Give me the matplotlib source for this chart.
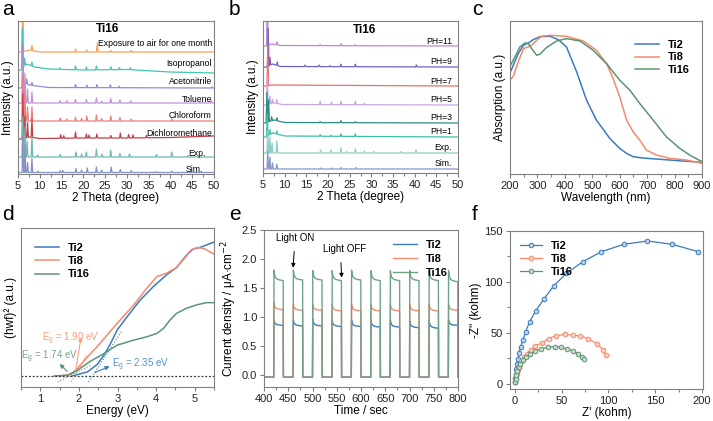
import numpy as np
import matplotlib.pyplot as plt

plt.rcParams['font.family'] = ['Liberation Sans', 'DejaVu Sans']

W, H = 713, 421

# ---------------- data ----------------
# (a) XRD, Ti16 after solvents; offsets in plot units, peaks as (2theta, height)
a_names = ['Exposure to air for one month', 'Isopropanol', 'Acetonitrile', 'Toluene',
           'Chloroform', 'Dichloromethane', 'Exp.', 'Sim.']
a_colors = ['#f5a25d', '#42c6ae', '#9a86d8', '#c391d6', '#ee7f7b', '#c2404a', '#72b8b0', '#8592c6']
a_base_x = [[5, 5.8, 7.6, 10, 50], [5, 5.7, 6.9, 8.8, 12, 20, 30, 40, 50], [5, 5.7, 6.5, 7.6, 12, 50],
            [5, 5.7, 50], [5, 5.7, 50], [5, 5.7, 7.7, 10, 20, 30, 40, 50], [5, 50], [5, 50]]
a_base_y = [[122, 122, 124, 122, 122], [104, 104, 110, 107, 105, 104, 104.5, 102, 101], [86, 86, 91, 89, 86.5, 86],
            [71, 71, 71], [53, 53, 53], [35, 35, 37, 35.5, 36, 36, 36.5, 38], [17, 17], [1.5, 1.5]]
a_peaks = [
    [(6.1, 60), (8.2, 5), (18.2, 3), (20.8, 2), (23.2, 9), (26.3, 1.5), (31.0, 1.5)],
    [(6.0, 40), (6.5, 8), (8.2, 4), (14.6, 1.5), (18.2, 4), (20.7, 3), (23.0, 4), (26.3, 3), (28.3, 2), (30.8, 2)],
    [(6.1, 40), (7.0, 5), (8.2, 3), (18.2, 3), (20.8, 2.5), (23.1, 3), (26.2, 3), (28.2, 1.5), (49.5, 1)],
    [(6.1, 45), (6.6, 30), (7.2, 14), (8.2, 11), (14.7, 2.5), (16.2, 2.5), (18.2, 3.5), (20.7, 3.5),
     (23.0, 5), (24.2, 2), (26.3, 4.5), (28.4, 3), (30.9, 2), (49.4, 2.5)],
    [(6.1, 45), (6.6, 28), (7.2, 14), (8.2, 14), (14.7, 3), (16.2, 2), (18.2, 4), (19.6, 2.5), (20.8, 5),
     (23.0, 6), (24.2, 2.5), (26.3, 5), (28.4, 3.5), (31.0, 2), (40.3, 2)],
    [(6.1, 45), (6.6, 22), (7.2, 15), (8.2, 18), (14.8, 3.5), (15.5, 2.5), (18.2, 6), (20.7, 4), (21.3, 3),
     (23.1, 4), (26.3, 2.5), (28.5, 5), (30.4, 3.5), (31.4, 3), (34.5, 2.5)],
    [(6.1, 40), (6.6, 30), (7.1, 16), (8.2, 20), (9.5, 2), (14.7, 2.5), (18.3, 5), (19.6, 3), (20.7, 5),
     (23.0, 8), (24.3, 3), (26.3, 7), (28.4, 3.5), (30.6, 3), (36.8, 2.5), (40.3, 5), (44.0, 1.5)],
    [(6.1, 38), (6.6, 28), (7.2, 10), (8.2, 14), (9.6, 1.5), (14.7, 2), (15.3, 2), (18.3, 4), (19.6, 2.5),
     (20.9, 4.5), (23.0, 5.5), (24.2, 2.5), (26.4, 5.5), (28.5, 3), (31.0, 2), (36.8, 1), (40.3, 1.5)],
]
a_label_x = [49.5, 49.5, 49.5, 49.5, 49.5, 49.5, 48, 47.5]
a_label_y = [131, 110, 92, 75, 58, 40, 21, 5]

# (b) XRD, Ti16 after pH soaking
b_names = ['PH=11', 'PH=9', 'PH=7', 'PH=5', 'PH=3', 'PH=1', 'Exp.', 'Sim.']
b_colors = ['#c486d0', '#6d64c9', '#f06c66', '#c9a7e0', '#2e8b86', '#3cc0a6', '#8fcfc6', '#8a98c8']
b_base_x = [[5, 5.6, 6.9, 9, 50], [5, 5.7, 7.2, 9, 50], [5, 5.7, 7, 50], [5, 5.6, 7.6, 9.5, 50],
            [5, 5.5, 7.5, 10, 50], [5, 5.6, 7.3, 10, 50], [5, 50], [5, 50]]
b_base_y = [[127, 127, 129, 127.5, 127], [106, 106, 109, 106.5, 106], [87, 87, 88, 87], [68, 68, 70, 68.5, 68],
            [50, 50, 53, 50.5, 50], [36, 36, 40, 37, 36], [20, 20], [4, 4]]
b_peaks = [
    [(6.0, 60), (8.2, 3), (18.2, 1), (23.0, 2), (26.3, 1)],
    [(6.2, 38), (6.6, 8), (8.3, 3.5), (14.7, 1.5), (18.0, 1.5), (20.5, 1), (23.0, 2.5), (26.3, 2.5), (40.4, 2)],
    [(6.1, 40)],
    [(6.0, 30), (6.6, 8), (7.2, 4), (8.2, 4), (18.2, 3.5), (20.8, 2.5), (23.0, 3.5), (26.3, 3.5), (28.4, 1.5)],
    [(5.9, 30), (6.3, 22), (7.0, 4), (8.2, 3), (18.2, 1), (23.0, 2), (26.3, 1)],
    [(6.0, 22), (6.6, 5), (8.2, 3), (18.2, 1.5), (20.7, 1), (23.0, 2.5), (26.3, 2.5)],
    [(6.1, 22), (6.6, 16), (7.1, 10), (8.2, 12), (18.3, 3), (20.7, 3), (23.0, 5), (24.3, 1.5), (26.3, 4),
     (28.4, 2), (30.6, 1.5), (36.8, 1.5), (40.3, 3)],
    [(6.1, 18), (6.6, 12), (7.2, 6), (8.2, 5), (18.3, 1), (20.9, 1), (23.0, 1.5), (26.4, 1.5)],
]
b_label_y = [132, 111, 92, 73, 56, 41, 25, 9]

# (c) UV-vis absorption
c_ti2_wl = [200, 212, 230, 249, 267, 285, 309, 346, 376, 406, 443, 479, 515, 564, 600, 625, 649, 685, 782, 900]
c_ti2_abs = [304, 327, 362, 387, 394, 404, 413, 414, 404, 382, 307, 222, 162, 107, 77, 62, 52, 48, 42, 35]
c_ti8_wl = [200, 212, 230, 249, 267, 279, 297, 315, 346, 406, 467, 515, 552, 576, 600, 625, 649, 673, 697,
            734, 782, 843, 900]
c_ti8_abs = [282, 294, 337, 377, 382, 387, 402, 414, 417, 414, 400, 372, 332, 287, 232, 162, 127, 102, 72,
             57, 47, 42, 32]
c_ti16_wl = [200, 218, 236, 255, 267, 279, 297, 309, 333, 370, 406, 455, 503, 552, 600, 637, 673, 722, 770,
             819, 855, 900]
c_ti16_abs = [324, 352, 382, 394, 392, 377, 357, 360, 380, 400, 407, 400, 372, 332, 282, 252, 212, 162, 112,
              77, 57, 37]

# (d) Tauc plot
d_ti2_e = [1.83, 1.96, 2.22, 2.47, 2.65, 2.82, 2.99, 3.25, 3.59, 3.93, 4.27, 4.53, 4.78, 4.96, 5.14, 5.5]
d_ti2_y = [33, 37, 45, 67, 95, 130, 170, 210, 260, 300, 335, 357, 393, 412, 417, 433]
d_ti8_e = [1.53, 1.79, 1.96, 2.22, 2.47, 2.73, 2.99, 3.42, 3.76, 4.02, 4.27, 4.53, 4.74, 4.91, 5.08, 5.25, 5.5]
d_ti8_y = [33, 37, 55, 90, 120, 155, 190, 245, 295, 330, 340, 357, 385, 410, 417, 413, 397]
d_ti16_e = [1.36, 1.7, 1.96, 2.3, 2.65, 2.99, 3.42, 3.76, 4.02, 4.19, 4.36, 4.53, 4.78, 5.04, 5.3, 5.5]
d_ti16_y = [33, 35, 50, 77, 100, 125, 140, 150, 160, 175, 200, 220, 235, 245, 252, 252]
d_base = 33
d_gaps = [2.35, 1.90, 1.74]

# (e) photocurrent, light on for 20 s every 40 s
e_on = [420, 460, 500, 540, 580, 620, 660, 700, 740, 780]
e_ti2_peak = [0.95, 0.95, 0.97, 0.95, 0.95, 0.95, 0.95, 0.94, 0.94, 0.95]
e_ti2_end = [0.86, 0.85, 0.85, 0.84, 0.84, 0.83, 0.83, 0.82, 0.81, 0.86]
e_ti8_peak = [1.25, 1.22, 1.22, 1.22, 1.22, 1.22, 1.22, 1.22, 1.22, 1.22]
e_ti8_end = [1.13, 1.12, 1.12, 1.11, 1.11, 1.11, 1.11, 1.11, 1.11, 1.12]
e_ti16_peak = [1.81, 1.81, 1.80, 1.80, 1.81, 1.80, 1.80, 1.80, 1.80, 1.80]
e_ti16_end = [1.63, 1.64, 1.64, 1.63, 1.64, 1.63, 1.63, 1.63, 1.63, 1.61]
e_dark = -0.03
# shape of one light-on pulse: time after switch-on, fraction of (peak - end)
e_pulse_t = [0.6, 1.5, 3, 5, 8, 13, 19.6]
e_pulse_f = [1.0, 0.62, 0.38, 0.22, 0.12, 0.05, 0.0]

# (f) Nyquist plot
f_ti2_re = [0.4, 0.7, 1.1, 1.8, 2.5, 3.6, 4.6, 6.4, 8.9, 11.7, 16, 22.4, 31, 41.6, 55.2, 73, 92.5, 116.4,
            141.7, 168.3, 196]
f_ti2_im = [1.6, 5.6, 9.8, 14.4, 19.3, 24.5, 30, 36.6, 43.1, 51.3, 61, 71.6, 83, 96, 108.5, 120, 129.7, 136.9,
            140.2, 136.9, 129.7]
f_ti8_re = [0.4, 1.1, 2.0, 3.2, 4.8, 6.9, 9.6, 12.8, 17.1, 22.1, 29.2, 36.3, 43.8, 53.4, 62.3, 69.8, 78.3,
            87.9, 94.3, 97.2]
f_ti8_im = [1.6, 5.6, 9.5, 13.7, 18, 22.2, 26.5, 29.7, 33.7, 37.3, 40.5, 44.4, 47.2, 48.5, 47.9, 47.0, 44.4,
            39.5, 33.5, 28.4]
f_ti16_re = [0.4, 1.0, 1.8, 2.8, 4.3, 6.2, 8.9, 12.1, 16.4, 21.7, 27.7, 35.2, 42.7, 49.5, 56.2, 62.3, 67.6,
             71.5, 73.7]
f_ti16_im = [1.5, 5.2, 9.0, 12.8, 16.5, 20.0, 23.6, 26.4, 29.4, 32.0, 34.2, 35.9, 36.6, 35.9, 34.3, 32.2,
             29.4, 26.8, 24.5]

c_blue, c_red, c_green = '#3b7bbf', '#f58a6e', '#5e9372'
grey = '#808080'
LAB = 8.5   # axis label size
TICK = 8    # tick label size
LEG = {'size': 8, 'weight': 'bold'}


def xrd_curve(bx, by, peaks, w=0.18):
    xs, ys = list(bx), list(by)
    for p, h in peaks:
        for dx, dh in ((-w, 0), (0, h), (w, 0)):
            xs.append(p + dx)
            ys.append(np.interp(p + dx, bx, by) + dh)
    order = np.argsort(xs)
    return np.array(xs)[order], np.array(ys)[order]


def add_ax(l, t, r, b):
    ax = fig.add_axes([l / W, 1 - b / H, (r - l) / W, (b - t) / H])
    for s in ax.spines.values():
        s.set_color(grey)
        s.set_linewidth(0.8)
    ax.tick_params(which='both', direction='out', color=grey, width=0.8, labelsize=TICK,
                   labelcolor='#222222', pad=2)
    ax.tick_params(which='major', length=3)
    ax.tick_params(which='minor', length=2)
    return ax


fig = plt.figure(figsize=(W / 100, H / 100), dpi=100)

# ---- a ----
ax = add_ax(18, 21, 214, 174)
for i in range(len(a_names)):
    x, y = xrd_curve(a_base_x[i], a_base_y[i], a_peaks[i])
    ax.plot(x, y, color=a_colors[i], lw=0.9)
    ax.text(a_label_x[i], a_label_y[i], a_names[i], ha='right', va='center', fontsize=6.2)
ax.text(25.5, 151, 'Ti16', ha='center', va='top', fontsize=8.5, fontweight='bold')
ax.set_xlim(5, 50)
ax.set_ylim(0, 153)
ax.set_xticks(range(5, 51, 5))
ax.set_xticks(np.arange(7.5, 50, 5), minor=True)
ax.set_yticks([])
ax.set_xlabel('2 Theta (degree)', fontsize=LAB, labelpad=1)
ax.set_ylabel('Intensity (a.u.)', fontsize=LAB, labelpad=3)

# ---- b ----
ax = add_ax(263, 21, 458, 173)
for i in range(len(b_names)):
    x, y = xrd_curve(b_base_x[i], b_base_y[i], b_peaks[i])
    ax.plot(x, y, color=b_colors[i], lw=0.9)
    ax.text(48.6, b_label_y[i], b_names[i], ha='right', va='center', fontsize=6.2)
ax.text(28.5, 149, 'Ti16', ha='center', va='top', fontsize=8.5, fontweight='bold')
ax.set_xlim(5, 50)
ax.set_ylim(0, 152)
ax.set_xticks(range(5, 51, 5))
ax.set_xticks(np.arange(7.5, 50, 5), minor=True)
ax.set_yticks([])
ax.set_xlabel('2 Theta (degree)', fontsize=LAB, labelpad=1)
ax.set_ylabel('Intensity (a.u.)', fontsize=LAB, labelpad=3)

# ---- c ----
ax = add_ax(510, 21, 702, 174)
ax.plot(c_ti2_wl, c_ti2_abs, color=c_blue, lw=1.1, label='Ti2')
ax.plot(c_ti8_wl, c_ti8_abs, color=c_red, lw=1.1, label='Ti8')
ax.plot(c_ti16_wl, c_ti16_abs, color=c_green, lw=1.1, label='Ti16')
ax.set_xlim(200, 900)
ax.set_ylim(0, 460)
ax.set_xticks(range(200, 901, 100))
ax.set_xticks(range(250, 900, 100), minor=True)
ax.set_yticks([])
ax.set_xlabel('Wavelength (nm)', fontsize=LAB, labelpad=1)
ax.set_ylabel('Absorption (a.u.)', fontsize=LAB, labelpad=3)
ax.legend(loc='upper right', frameon=False, prop=LEG, handlelength=2.2,
          labelspacing=0.2, bbox_to_anchor=(0.99, 0.94))

# ---- d ----
ax = add_ax(21, 228, 214, 387)
ax.plot(d_ti2_e, d_ti2_y, color=c_blue, lw=1.1, label='Ti2')
ax.plot(d_ti8_e, d_ti8_y, color=c_red, lw=1.1, label='Ti8')
ax.plot(d_ti16_e, d_ti16_y, color=c_green, lw=1.1, label='Ti16')
ax.axhline(d_base, color='#333333', lw=0.9, ls=(0, (1.5, 1.5)))
# tangent lines
ax.plot([2.25, 3.1], [15, 165], color=c_blue, lw=0.8, ls=':')
ax.plot([1.8, 2.2], [15, 95], color=c_red, lw=0.8, ls=':')
ax.plot([1.45, 2.3], [15, 65], color=c_green, lw=0.8, ls=':')
ann = dict(arrowstyle='-|>', lw=0.8, mutation_scale=6)
ax.annotate('', xy=(2.07, 157), xytext=(d_gaps[1], d_base + 8), arrowprops=dict(ann, color='#f5a080'))
ax.annotate('', xy=(1.45, 75), xytext=(1.75, d_base + 7), arrowprops=dict(ann, color=c_green))
ax.annotate('', xy=(2.86, 65), xytext=(d_gaps[0], d_base + 7), arrowprops=dict(ann, color=c_blue))
ax.text(1.8, 145, '$\\mathregular{E_g}$ = %.2f eV' % d_gaps[1], color='#f5a080', fontsize=7, ha='center', va='center')
ax.text(1.25, 90, '$\\mathregular{E_g}$ = %.2f eV' % d_gaps[2], color='#7aa487', fontsize=7, ha='center', va='center')
ax.text(3.59, 67, '$\\mathregular{E_g}$ = %.2f eV' % d_gaps[0], color='#4f92cc', fontsize=7, ha='center', va='center')
ax.set_xlim(0.5, 5.5)
ax.set_ylim(0, 475)
ax.set_xticks(range(1, 6))
ax.set_xticks(np.arange(0.5, 5.6, 0.5), minor=True)
ax.set_yticks([])
ax.set_xlabel('Energy (eV)', fontsize=LAB, labelpad=1)
ax.set_ylabel('(hwf)² (a.u.)', fontsize=LAB, labelpad=3)
ax.legend(loc='upper left', frameon=False, prop=LEG, handlelength=2.2,
          labelspacing=0.3, bbox_to_anchor=(0.02, 0.97))

# ---- e ----
ax = add_ax(264, 230, 458, 387)
for peak, end, col, lab in ((e_ti2_peak, e_ti2_end, c_blue, 'Ti2'), (e_ti8_peak, e_ti8_end, c_red, 'Ti8'),
                            (e_ti16_peak, e_ti16_end, '#6fa386', 'Ti16')):
    ts, vs = [400], [e_dark]
    for t0, pk, en in zip(e_on, peak, end):
        ts.append(t0)
        vs.append(e_dark)
        for dt, fr in zip(e_pulse_t, e_pulse_f):
            ts.append(t0 + dt)
            vs.append(en + fr * (pk - en))
        ts.append(t0 + 20)
        vs.append(e_dark)
    ts.append(800)
    vs.append(e_dark)
    ax.plot(ts, vs, color=col, lw=1.0, label=lab)
ax.annotate('Light ON', xy=(460, 1.85), xytext=(464, 2.36), ha='center', va='center', fontsize=7,
            arrowprops=dict(arrowstyle='-|>', color='black', lw=0.7, mutation_scale=6, shrinkA=4, shrinkB=0))
ax.annotate('Light OFF', xy=(560, 1.68), xytext=(567, 2.17), ha='center', va='center', fontsize=7,
            arrowprops=dict(arrowstyle='-|>', color='black', lw=0.7, mutation_scale=6, shrinkA=4, shrinkB=0,
                            relpos=(0.4, 0)))
ax.set_xlim(400, 800)
ax.set_ylim(-0.2, 2.5)
ax.set_xticks(range(400, 801, 50))
ax.set_xticks(range(425, 800, 50), minor=True)
ax.set_yticks(np.arange(0, 2.51, 0.5))
ax.yaxis.set_major_formatter(plt.FormatStrFormatter('%.1f'))
ax.set_xlabel('Time / sec', fontsize=LAB, labelpad=1)
ax.set_ylabel('Current density / μA·cm$^{-2}$', fontsize=LAB, labelpad=2)
ax.legend(loc='upper right', frameon=False, prop=LEG, handlelength=2.2,
          labelspacing=0.35, bbox_to_anchor=(1.0, 1.0))

# ---- f ----
ax = add_ax(510, 231, 703, 389)
for re, im, col, face, lab in ((f_ti2_re, f_ti2_im, c_blue, '#b9d3ec', 'Ti2'),
                               (f_ti8_re, f_ti8_im, c_red, '#fcd2c6', 'Ti8'),
                               (f_ti16_re, f_ti16_im, c_green, '#c6dcca', 'Ti16')):
    ax.plot(re, im, color=col, lw=0.9, marker='o', ms=3.3, mfc=face, mec=col, mew=0.7, label=lab)
ax.set_xlim(-5, 201)
ax.set_ylim(-5, 150)
ax.set_xticks(range(0, 201, 50))
ax.set_xticks(range(25, 200, 50), minor=True)
ax.set_yticks(range(0, 151, 50))
ax.set_yticks(range(25, 150, 50), minor=True)
ax.set_xlabel("Z' (kohm)", fontsize=LAB, labelpad=1)
ax.set_ylabel('-Z" (kohm)', fontsize=LAB, labelpad=2)
ax.legend(loc='upper left', frameon=False, prop=LEG, handlelength=2.0,
          labelspacing=0.25, bbox_to_anchor=(0.0, 1.0))

# panel letters
for lt, px, py in (('a', 2, 0), ('b', 229, 0), ('c', 472, 0), ('d', 2, 205), ('e', 229, 205), ('f', 472, 205)):
    fig.text(px / W, 1 - py / H, lt, fontsize=15, va='top', ha='left')

fig.savefig('out.png', dpi=100)
